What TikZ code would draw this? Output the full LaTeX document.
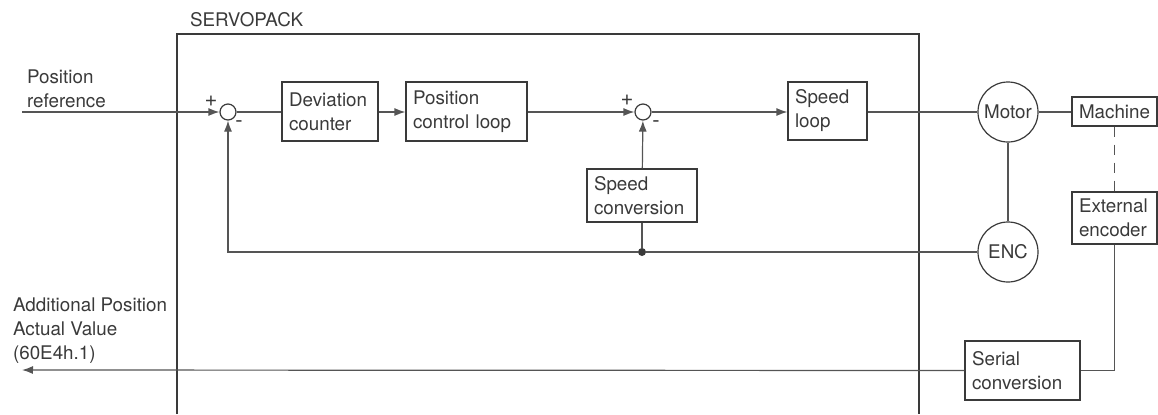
\documentclass[tikz,border=0pt]{standalone}
\usepackage{fontspec}
\setmainfont{TeX Gyre Heros}
\usetikzlibrary{arrows.meta,positioning}
\definecolor{ink}{HTML}{3A3A3A}
\definecolor{wire}{HTML}{555555}
\tikzset{
  every node/.style={font=\fontsize{9.4}{12}\selectfont, text=ink},
  blk/.style={draw=ink, line width=0.6pt, inner xsep=3.5pt, inner ysep=0pt,
              align=left, fill=white},
  sumc/.style={circle, draw=ink, line width=0.6pt, minimum size=8pt, inner sep=0pt, fill=white},
  bigc/.style={circle, draw=ink, line width=0.6pt, minimum size=30pt, inner sep=0pt, fill=white},
  sgn/.style={inner sep=0pt, font=\fontsize{11}{12}\selectfont},
  ln/.style ={line width=0.6pt, draw=wire},
  ar/.style ={ln, -{Latex[length=5.5pt,width=4pt]}},
  dot/.style={circle, fill=ink, minimum size=4pt, inner sep=0pt},
}
\begin{document}
\begin{tikzpicture}[x=0.5pt,y=-0.5pt]
\useasboundingbox (0,0) rectangle (1158,414);

% servopack frame, open at the bottom
\draw[line width=0.6pt, draw=ink] (177,414) |- (919,34) -- (919,414);
\node[anchor=west] (svp) at (183,20) {SERVOPACK};

% inputs and outputs
\node[anchor=west, align=left] (pref) at (20,89) {Position\\reference};
\node[anchor=west, align=left] (apav) at (6,331) {Additional Position\\Actual Value\\(60E4h.1)};
\coordinate (in) at (22,112);
\coordinate (out) at (22,370);

% forward path
\node[sumc] (sum1) at (228,112) {};
\node[sgn] at (211,101) {+};
\node[sgn] at (239,124) {-};
\node[blk, minimum width=48pt, minimum height=29.5pt, text width=41pt] (dev) at (330,111.5)
  {Deviation\\counter};
\node[blk, minimum width=60.5pt, minimum height=29.5pt, text width=53.5pt] (pcl) at (466.5,111.5)
  {Position\\control loop};
\node[sumc] (sum2) at (643,112) {};
\node[sgn] at (627,100) {+};
\node[sgn] at (656,124) {-};
\node[blk, minimum width=55pt, minimum height=26.5pt, text width=48pt] (spc) at (642,195.5)
  {Speed\\conversion};
\node[blk, minimum width=39.5pt, minimum height=29pt, text width=32.5pt] (spd) at (827.5,111)
  {Speed\\loop};

% motor side
\node[bigc] (motor) at (1008,112) {Motor};
\node[bigc] (enc) at (1008,252) {ENC};
\node[blk, minimum width=42.5pt, minimum height=14.5pt, text width=35.5pt] (mach) at (1114.5,111.5)
  {Machine};
\node[blk, minimum width=42.5pt, minimum height=26pt, text width=35.5pt] (ext) at (1114.5,218)
  {External\\encoder};
\node[blk, minimum width=57.5pt, minimum height=29.5pt, text width=50.5pt] (ser) at (1022.5,370.5)
  {Serial\\conversion};
\node[dot] (jn) at (642,252) {};

\draw[ar] (in) -- (sum1);
\draw[ln] (sum1) -- (sum1 -| dev.west);
\draw[ar] (dev.east |- sum1) -- (pcl.west |- sum1);
\draw[ar] (pcl.east |- sum2) -- (sum2);
\draw[ar] (sum2) -- (spd.west |- sum2);
\draw[ln] (spd.east |- motor) -- (motor);
\draw[ln] (motor) -- (mach.west |- motor);
\draw[ln] (motor) -- (enc);
\draw[ln, dashed, dash pattern=on 5pt off 4pt] (mach) -- (ext);

% feedback
\draw[ar] (enc) -- (jn) -| (sum1);
\draw[ln] (spc) -- (jn);
\draw[ar] (spc) -- (sum2);
\draw[ln] (ext.south) |- (ser.east);
\draw[ar] (ser.west) -- (out);

\end{tikzpicture}
\end{document}
